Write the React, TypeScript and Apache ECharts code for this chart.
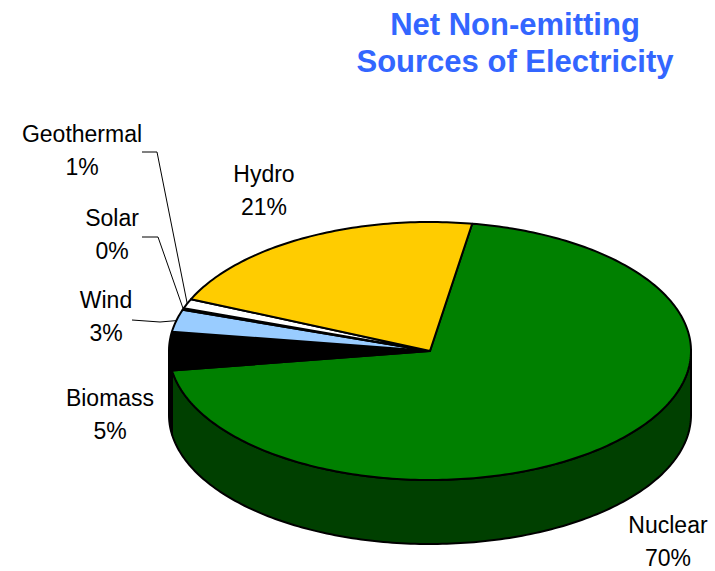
import React, { useEffect, useRef } from "react";
import * as echarts from "echarts";

// Share of net non-emitting electricity generation, in percent
const SOURCES = ["Nuclear", "Biomass", "Wind", "Solar", "Geothermal", "Hydro"];
const SHARES = [70.0, 4.8, 2.8, 0.2, 1.2, 21.0];
const TOP_COLORS = ["#008000", "#000000", "#99CCFF", "#FFFFFF", "#FFFFFF", "#FFCC00"];
const SIDE_COLORS = ["#004000", "#000000", "#6f9cc8", "#d8d8d8", "#d8d8d8", "#b08c00"];
const TITLE_LINES = ["Net Non-emitting", "Sources of Electricity"];

// Label placement (block centre) and optional leader-line elbows
const LABEL_LAYOUT: { x: number; y: number; line?: number[][] }[] = [
  { x: 668, y: 541 },
  { x: 110, y: 414 },
  { x: 106, y: 316, line: [[132, 320], [160, 322]] },
  { x: 112, y: 234, line: [[142, 237], [158, 237]] },
  { x: 82, y: 150, line: [[142, 152], [157, 152]] },
  { x: 264, y: 190 },
];

// Tilted-disc geometry
const CX = 430;
const CY = 351;
const RX = 261;
const RY = 129;
const DEPTH = 64;
const START_DEG = 80.7;

const RAD = Math.PI / 180;
const TOTAL = SHARES.reduce((a, b) => a + b, 0);

function sliceAngles(i: number) {
  const before = SHARES.slice(0, i).reduce((a, b) => a + b, 0);
  const s = START_DEG - (360 * before) / TOTAL;
  const e = s - (360 * SHARES[i]) / TOTAL;
  return { s, e };
}

function rim(deg: number, dy = 0): number[] {
  return [CX + RX * Math.cos(deg * RAD), CY - RY * Math.sin(deg * RAD) + dy];
}

function arc(from: number, to: number, dy = 0): number[][] {
  const pts: number[][] = [];
  const step = from > to ? -1 : 1;
  const n = Math.max(1, Math.ceil(Math.abs(to - from)));
  for (let k = 0; k <= n; k++) {
    const d = k === n ? to : from + step * k;
    pts.push(rim(d, dy));
  }
  return pts;
}

export default function App() {
  const ref = useRef<HTMLDivElement>(null);

  useEffect(() => {
    if (!ref.current) return;
    const chart = echarts.init(ref.current, undefined, { renderer: "svg" });
    const data = SHARES.map((v, i) => ({ name: SOURCES[i], value: v }));

    const sideSeries = {
      type: "custom",
      coordinateSystem: "none",
      z: 1,
      silent: true,
      data,
      renderItem: (params: any) => {
        const i = params.dataIndex;
        const { s, e } = sliceAngles(i);
        // Only the front half (-180..0 deg) of the wall is visible
        const hi = Math.min(s, 0);
        const lo = Math.max(e, -180);
        if (hi <= lo) return { type: "group", children: [] };
        const pts = [...arc(hi, lo), ...arc(lo, hi, DEPTH)];
        return {
          type: "polygon",
          shape: { points: pts },
          style: { fill: SIDE_COLORS[i], stroke: "#000", lineWidth: 2, lineJoin: "round" },
        };
      },
    };

    const topSeries = {
      type: "custom",
      coordinateSystem: "none",
      z: 2,
      silent: true,
      data,
      renderItem: (params: any) => {
        const i = params.dataIndex;
        const { s, e } = sliceAngles(i);
        const pct = Math.round((SHARES[i] / TOTAL) * 100);
        const lay = LABEL_LAYOUT[i];
        const children: any[] = [
          {
            type: "polygon",
            shape: { points: [[CX, CY], ...arc(s, e)] },
            style: { fill: TOP_COLORS[i], stroke: "#000", lineWidth: 2, lineJoin: "round" },
          },
          {
            type: "text",
            z2: 5,
            style: {
              text: `${SOURCES[i]}\n${pct}%`,
              x: lay.x,
              y: lay.y,
              align: "center",
              verticalAlign: "middle",
              textAlign: "center",
              textVerticalAlign: "middle",
              font: '23px "Liberation Sans", Arial, sans-serif',
              lineHeight: 33,
              fill: "#000",
            },
          },
        ];
        if (lay.line) {
          const mid = (s + e) / 2;
          children.push({
            type: "polyline",
            z2: 4,
            shape: { points: [...lay.line, rim(mid)] },
            style: { stroke: "#000", lineWidth: 1, fill: null },
          });
        }
        return { type: "group", children };
      },
    };

    chart.setOption({
      animation: false,
      backgroundColor: "#ffffff",
      graphic: [
        {
          type: "text",
          left: 515 - 170,
          top: 6,
          style: {
            text: TITLE_LINES.join("\n"),
            x: 0,
            y: 0,
            width: 340,
            align: "center",
            textAlign: "center",
            font: 'bold 31px "Liberation Sans", Arial, sans-serif',
            lineHeight: 37,
            fill: "#3366FF",
          },
        },
      ],
      series: [sideSeries, topSeries],
    });

    return () => chart.dispose();
  }, []);

  return (
    <div
      ref={ref}
      style={{ position: "fixed", left: 0, top: 0, width: 715, height: 571 }}
    />
  );
}
